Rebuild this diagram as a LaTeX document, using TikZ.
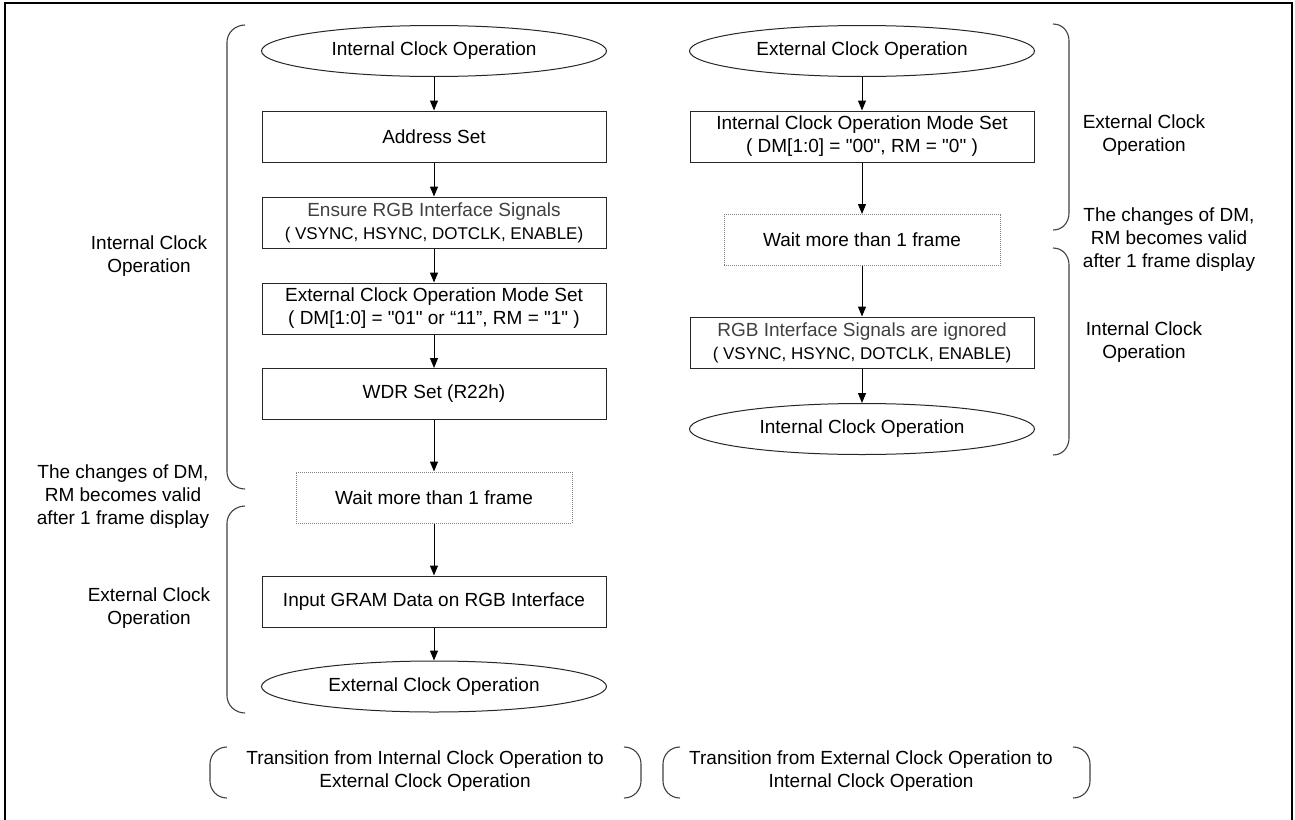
\documentclass[tikz,border=0pt]{standalone}
\usepackage{fontspec}
\setmainfont{Liberation Sans}[Ligatures=TeXOff]
\usetikzlibrary{arrows.meta,shapes.geometric}
\begin{document}
\begin{tikzpicture}[x=1pt,y=-1pt,
  every node/.style={font=\fontsize{19}{23}\selectfont, align=center, inner sep=0pt},
  procbox/.style={draw=black!85, line width=1pt, minimum width=344pt, minimum height=51pt},
  waitbox/.style={draw=black!50, line width=1pt, densely dotted, minimum width=276pt, minimum height=51pt},
  term/.style={draw=black!85, line width=1pt, ellipse, minimum width=345pt, minimum height=51pt},
  flow/.style={-{Triangle[length=10pt,width=8pt]}, line width=1pt},
  brk/.style={draw=black!75, line width=1.1pt}]
\useasboundingbox (0,0) rectangle (1295,819);
% outer frame
\draw[line width=2.2pt] (5,830) -- (5,3) -- (1292,3) -- (1292,830);

% left column
\node[term] (L0) at (434,51) {Internal Clock Operation};
\node[procbox] (L1) at (434,136.5) {Address Set};
\node[procbox] (L2) at (434,222.5) {\color{black!75}Ensure RGB Interface Signals\\{\fontsize{17}{21}\selectfont( VSYNC, HSYNC, DOTCLK, ENABLE)}};
\node[procbox] (L3) at (434,308.5) {External Clock Operation Mode Set\\( DM[1:0] = "01" or “11”, RM = "1" )};
\node[procbox] (L4) at (434,394) {WDR Set (R22h)};
\node[waitbox] (L5) at (434,497.5) {Wait more than 1 frame};
\node[procbox] (L6) at (434,601.5) {Input GRAM Data on RGB Interface};
\node[term] (L7) at (434,686.5) {External Clock Operation};
\draw[flow] (L0) -- (L1);
\draw[flow] (L1) -- (L2);
\draw[flow] (L2) -- (L3);
\draw[flow] (L3) -- (L4);
\draw[flow] (L4) -- (L5);
\draw[flow] (L5) -- (L6);
\draw[flow] (L6) -- (L7);

% right column
\node[term] (R0) at (862,51) {External Clock Operation};
\node[procbox] (R1) at (862,136.5) {Internal Clock Operation Mode Set\\( DM[1:0] = "00", RM = "0" )};
\node[waitbox] (R2) at (862,240) {Wait more than 1 frame};
\node[procbox] (R3) at (862,342.5) {\color{black!75}RGB Interface Signals are ignored\\{\fontsize{17}{21}\selectfont( VSYNC, HSYNC, DOTCLK, ENABLE)}};
\node[term] (R4) at (862,429) {Internal Clock Operation};
\draw[flow] (R0) -- (R1);
\draw[flow] (R1) -- (R2);
\draw[flow] (R2) -- (R3);
\draw[flow] (R3) -- (R4);

% brackets left column
\draw[brk] (245,25) .. controls (235,25) and (227,33) .. (227,42) -- (227,472) .. controls (227,481) and (235,489) .. (245,489);
\draw[brk] (245,506) .. controls (235,506) and (227,514) .. (227,523) -- (227,696) .. controls (227,705) and (235,713) .. (245,713);
% brackets right column
\draw[brk] (1053,24) .. controls (1063,24) and (1069,32) .. (1069,41) -- (1069,213) .. controls (1069,222) and (1063,230) .. (1053,230);
\draw[brk] (1053,248) .. controls (1063,248) and (1069,256) .. (1069,265) -- (1069,438) .. controls (1069,447) and (1063,455) .. (1053,455);
% bottom brackets
\draw[brk] (227,747) .. controls (217,747) and (210,755) .. (210,764) -- (210,781) .. controls (210,790) and (217,798) .. (227,798);
\draw[brk] (624,747) .. controls (634,747) and (641,755) .. (641,764) -- (641,781) .. controls (641,790) and (634,798) .. (624,798);
\draw[brk] (680,747) .. controls (670,747) and (663,755) .. (663,764) -- (663,781) .. controls (663,790) and (670,798) .. (680,798);
\draw[brk] (1073,747) .. controls (1083,747) and (1090,755) .. (1090,764) -- (1090,781) .. controls (1090,790) and (1083,798) .. (1073,798);

% side labels
\node (lab1) at (149,256) {Internal Clock\\Operation};
\node (lab2) at (123,497) {The changes of DM,\\RM becomes valid\\after 1 frame display};
\node (lab3) at (149,608.5) {External Clock\\Operation};
\node (lab4) at (1144,135.5) {External Clock\\Operation};
\node (lab5) at (1169,239.5) {The changes of DM,\\RM becomes valid\\after 1 frame display};
\node (lab6) at (1144,342.5) {Internal Clock\\Operation};

% bottom captions
\node (cap1) at (425,771.5) {Transition from Internal Clock Operation to\\External Clock Operation};
\node (cap2) at (871,771.5) {Transition from External Clock Operation to\\Internal Clock Operation};
\end{tikzpicture}
\end{document}
